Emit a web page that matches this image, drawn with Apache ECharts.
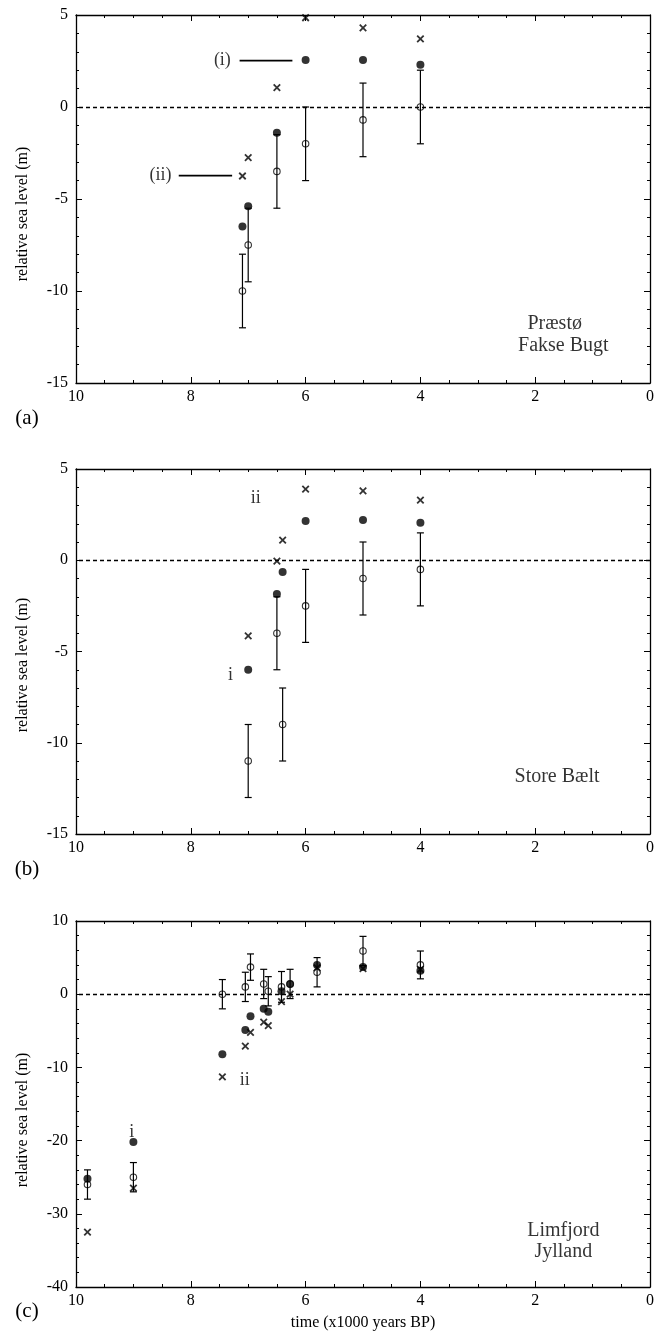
<!DOCTYPE html>
<html><head><meta charset="utf-8">
<script src="https://cdn.jsdelivr.net/npm/echarts@6/dist/echarts.min.js"></script>
<style>html,body{margin:0;padding:0;background:#fff}#c{width:659px;height:1334px}</style>
</head><body><div id="c"></div>
<script>
// ---------- data ----------
const xAxisTitle = 'time (x1000 years BP)';
const yAxisTitle = 'relative sea level (m)';
const panelTags = ['(a)', '(b)', '(c)'];

// Panel (a) Præstø / Fakse Bugt
const aX      = [7.1, 7.0, 6.5, 6.0, 5.0, 4.0];
const aOpen   = [-10.0, -7.5, -3.5, -2.0, -0.7, 0.0];
const aErr    = [2, 2, 2, 2, 2, 2];
const aFilled = [-6.5, -5.4, -1.4, 2.55, 2.55, 2.3];
const aCross  = [-3.75, -2.75, 1.05, 4.85, 4.3, 3.7];
const aNotes  = [['(i)', 7.45, 2.52], ['(ii)', 8.53, -3.73]];
const aSite   = [['Præstø', 1.66, -11.8], ['Fakse Bugt', 1.51, -13.0]];
const aLeaders = [[[7.15, 2.52], [6.23, 2.52]], [[8.21, -3.73], [7.28, -3.73]]];

// Panel (b) Store Bælt
const bX      = [7.0, 6.5, 6.4, 6.0, 5.0, 4.0];
const bOpen   = [-11.0, -4.0, -9.0, -2.5, -1.0, -0.5];
const bErr    = [2, 2, 2, 2, 2, 2];
const bFilled = [-6.0, -1.85, -0.65, 2.15, 2.2, 2.05];
const bCross  = [-4.15, -0.05, 1.1, 3.9, 3.8, 3.3];
const bNotes  = [['ii', 6.87, 3.39], ['i', 7.31, -6.29]];
const bSite   = [['Store Bælt', 1.62, -11.85]];

// Panel (c) Limfjord / Jylland
const cX      = [9.8, 9.0, 7.45, 7.05, 6.96, 6.73, 6.65, 6.42, 6.27, 5.8, 5.0, 4.0];
const cOpen   = [-26, -25, 0, 1.0, 3.7, 1.4, 0.4, 1.0, 1.4, 3.0, 5.9, 4.0];
const cErr    = [2, 2, 2, 2, 1.8, 2, 2, 2.1, 2, 2, 2, 1.9];
const cFilled = [-25.2, -20.2, -8.2, -4.9, -3.0, -2.0, -2.4, 0.4, 1.4, 4.0, 3.7, 3.2];
const cCross  = [-32.5, -26.5, -11.3, -7.1, -5.2, -3.8, -4.3, -1.0, 0.0, 3.6, 3.5, 3.4];
const cNotes  = [['i', 9.03, -18.8], ['ii', 7.06, -11.8]];
const cSite   = [['Limfjord', 1.51, -32.3], ['Jylland', 1.51, -35.2]];

const xRange = [0, 10, 2];
const yRanges = [[-15, 5, 5, 5], [-15, 5, 5, 5], [-40, 10, 10, 5]]; // min,max,interval,minorSplit

// ---------- layout / style ----------
const FONT = '"Liberation Serif","Times New Roman","DejaVu Serif",serif';
const INK = '#000';
const grids = [
  {left: 76, right: 9, top: 15, height: 368},
  {left: 76, right: 9, top: 469, height: 365},
  {left: 76, right: 9, top: 921, height: 366}
];
const tagPos = [[27, 418], [27, 869], [27, 1311]];
const yTitleY = [214, 665, 1120];

const panels = [
  {x: aX, open: aOpen, err: aErr, filled: aFilled, cross: aCross, notes: aNotes, site: aSite, leaders: aLeaders},
  {x: bX, open: bOpen, err: bErr, filled: bFilled, cross: bCross, notes: bNotes, site: bSite, leaders: []},
  {x: cX, open: cOpen, err: cErr, filled: cFilled, cross: cCross, notes: cNotes, site: cSite, leaders: []}
];

function errRender(params, api) {
  const x = api.value(0), lo = api.value(1), hi = api.value(2);
  const p1 = api.coord([x, lo]), p2 = api.coord([x, hi]);
  const w = 3.5;
  const style = {stroke: INK, lineWidth: 1.2, fill: null};
  return {type: 'group', children: [
    {type: 'line', shape: {x1: p1[0], y1: p1[1], x2: p2[0], y2: p2[1]}, style: style},
    {type: 'line', shape: {x1: p1[0] - w, y1: p1[1], x2: p1[0] + w, y2: p1[1]}, style: style},
    {type: 'line', shape: {x1: p2[0] - w, y1: p2[1], x2: p2[0] + w, y2: p2[1]}, style: style}
  ]};
}

const xAxes = [], yAxes = [], series = [];
const axLine = {onZero: false, lineStyle: {color: INK, width: 1.3}};
const tick = {inside: true, length: 6, lineStyle: {color: INK, width: 1}};
const minor = (n) => ({show: true, splitNumber: n, length: 3, lineStyle: {color: INK, width: 1}});

panels.forEach((p, gi) => {
  const [ymin, ymax, yint, ysplit] = yRanges[gi];
  const bottom = {
    gridIndex: gi, type: 'value', min: xRange[0], max: xRange[1], interval: xRange[2], inverse: true,
    position: 'bottom', axisLine: axLine, axisTick: tick, minorTick: minor(4),
    splitLine: {show: false}, minorSplitLine: {show: false},
    axisLabel: {fontFamily: FONT, fontSize: 16, color: INK, margin: 6}
  };
  if (gi === 2) {
    Object.assign(bottom, {name: xAxisTitle, nameLocation: 'middle', nameGap: 28,
      nameTextStyle: {fontFamily: FONT, fontSize: 16, color: INK}});
  }
  xAxes.push(bottom);
  xAxes.push({
    gridIndex: gi, type: 'value', min: xRange[0], max: xRange[1], interval: xRange[2], inverse: true,
    position: 'top', axisLine: axLine, axisTick: tick, minorTick: minor(4),
    splitLine: {show: false}, axisLabel: {show: false}
  });
  yAxes.push({
    gridIndex: gi, type: 'value', min: ymin, max: ymax, interval: yint, position: 'left',
    axisLine: axLine, axisTick: tick, minorTick: minor(ysplit), splitLine: {show: false},
    axisLabel: {fontFamily: FONT, fontSize: 16, color: INK, margin: 8}
  });
  yAxes.push({
    gridIndex: gi, type: 'value', min: ymin, max: ymax, interval: yint, position: 'right',
    axisLine: axLine, axisTick: tick, minorTick: minor(ysplit), splitLine: {show: false},
    axisLabel: {show: false}
  });
  const xi = gi * 2, yi = gi * 2;
  series.push({
    type: 'custom', xAxisIndex: xi, yAxisIndex: yi, renderItem: errRender, silent: true, z: 2,
    encode: {x: 0, y: [1, 2]},
    data: p.x.map((x, i) => [x, p.open[i] - p.err[i], p.open[i] + p.err[i]])
  });
  series.push({
    type: 'scatter', xAxisIndex: xi, yAxisIndex: yi, silent: true, z: 3,
    symbol: 'circle', symbolSize: 6.5,
    itemStyle: {color: 'rgba(255,255,255,0)', borderColor: INK, borderWidth: 1.1},
    data: p.x.map((x, i) => [x, p.open[i]])
  });
  series.push({
    type: 'scatter', xAxisIndex: xi, yAxisIndex: yi, silent: true, z: 4,
    symbol: 'circle', symbolSize: 8, itemStyle: {color: INK},
    data: p.x.map((x, i) => [x, p.filled[i]]),
    markLine: {silent: true, symbol: 'none', label: {show: false},
      lineStyle: {type: [4, 3], color: INK, width: 1.3}, data: [{yAxis: 0}]}
  });
  series.push({
    type: 'scatter', xAxisIndex: xi, yAxisIndex: yi, silent: true, z: 5,
    symbol: 'path://M0,0L10,10M10,0L0,10', symbolSize: 6.5,
    itemStyle: {color: 'rgba(0,0,0,0)', borderColor: INK, borderWidth: 1.8},
    data: p.x.map((x, i) => [x, p.cross[i]])
  });
  series.push({
    type: 'scatter', xAxisIndex: xi, yAxisIndex: yi, silent: true, z: 6, symbolSize: 0,
    label: {show: true, position: 'inside', formatter: (d) => d.name, fontFamily: FONT, fontSize: 18, color: INK},
    data: p.notes.map(n => ({name: n[0], value: [n[1], n[2]]}))
  });
  series.push({
    type: 'scatter', xAxisIndex: xi, yAxisIndex: yi, silent: true, z: 6, symbolSize: 0,
    label: {show: true, position: 'inside', formatter: (d) => d.name, fontFamily: FONT, fontSize: 20, color: INK},
    data: p.site.map(n => ({name: n[0], value: [n[1], n[2]]}))
  });
  p.leaders.forEach(seg => {
    series.push({
      type: 'line', xAxisIndex: xi, yAxisIndex: yi, silent: true, z: 6, symbol: 'none',
      lineStyle: {color: INK, width: 1.6}, data: seg
    });
  });
});

const graphic = [];
panelTags.forEach((t, i) => {
  graphic.push({type: 'text', x: tagPos[i][0], y: tagPos[i][1],
    style: {text: t, font: '21px ' + FONT, fill: INK, textAlign: 'center', textVerticalAlign: 'middle'}});
  graphic.push({type: 'text', x: 23, y: yTitleY[i], rotation: Math.PI / 2,
    style: {text: yAxisTitle, font: '16px ' + FONT, fill: INK, textAlign: 'center', textVerticalAlign: 'middle'}});
});

const chart = echarts.init(document.getElementById('c'), null, {renderer: 'canvas'});
chart.setOption({
  animation: false, backgroundColor: '#fff',
  grid: grids, xAxis: xAxes, yAxis: yAxes, series: series, graphic: graphic
});
</script></body></html>
